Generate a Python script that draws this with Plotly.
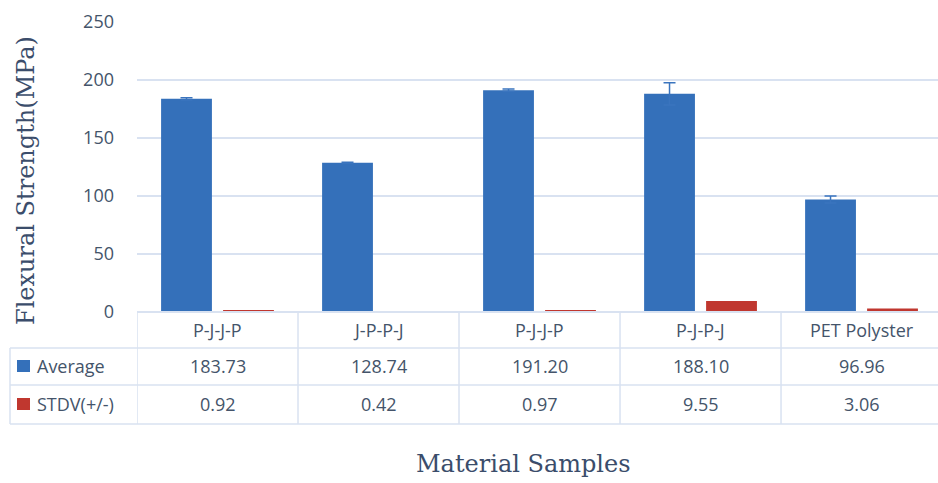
import plotly.graph_objects as go

categories = ["P-J-J-P", "J-P-P-J", "P-J-J-P", "P-J-P-J", "PET Polyster"]
average = [183.73, 128.74, 191.20, 188.10, 96.96]
stdv = [0.92, 0.42, 0.97, 9.55, 3.06]
y_ticks = [0, 50, 100, 150, 200, 250]

W, H = 938, 483
L, R, T, B = 137, 0, 22, 171
PW, PH = W - L - R, H - T - B

def px_x(p):  # pixel -> paper x
    return (p - L) / PW

def px_y(p):  # pixel -> paper y
    return (T + PH - p) / PH

xs = list(range(len(categories)))
TXT = "#44546a"
GRID = "#d9e2f1"
BLUE = "#3470ba"
RED = "#c0372f"

fig = go.Figure()
fig.add_trace(go.Bar(
    x=xs, y=average, name="Average", marker=dict(color=BLUE, line=dict(width=0)),
    error_y=dict(type="data", array=stdv, visible=True, color="#3a74be", thickness=1.5, width=6),
))
fig.add_trace(go.Bar(
    x=xs, y=stdv, name="STDV(+/-)", marker=dict(color=RED, line=dict(width=0)),
))

shapes = []
annotations = []
row_lines = [312, 348, 385, 424]
y_rows = [px_y(p) for p in row_lines]
# horizontal lines
shapes.append(dict(type="line", xref="paper", yref="paper", x0=0, x1=1.01, y0=y_rows[0], y1=y_rows[0],
                   line=dict(color=GRID, width=2), layer="above"))
for yr in y_rows[1:]:
    shapes.append(dict(type="line", xref="paper", yref="paper", x0=px_x(10), x1=1.01, y0=yr, y1=yr,
                       line=dict(color=GRID, width=1.5)))
# vertical lines
for i in range(len(categories) + 1):
    shapes.append(dict(type="line", xref="x", yref="paper", x0=i - 0.5, x1=i - 0.5, y0=y_rows[0], y1=y_rows[-1],
                       line=dict(color=GRID, width=1.5)))
shapes.append(dict(type="line", xref="paper", yref="paper", x0=px_x(10), x1=px_x(10), y0=y_rows[1], y1=y_rows[-1],
                   line=dict(color=GRID, width=1.5)))
# legend keys
for (c, col) in [(366, BLUE), (404, RED)]:
    shapes.append(dict(type="rect", xref="paper", yref="paper", x0=px_x(17), x1=px_x(30),
                       y0=px_y(c + 6), y1=px_y(c - 6), fillcolor=col, line=dict(width=0)))

tfont = dict(family="Open Sans, sans-serif", size=18, color=TXT)
row_centers = [330, 366, 404]
for i, cat in enumerate(categories):
    for r, txt in enumerate([cat, f"{average[i]:.2f}", f"{stdv[i]:.2f}"]):
        annotations.append(dict(x=i, y=px_y(row_centers[r]), xref="x", yref="paper", text=txt,
                                xanchor="center", yanchor="middle", showarrow=False, font=tfont))
annotations.append(dict(x=px_x(35), y=px_y(row_centers[1]), xref="paper", yref="paper", text="Average",
                        xanchor="left", yanchor="middle", showarrow=False, font=tfont))
annotations.append(dict(x=px_x(35), y=px_y(row_centers[2]), xref="paper", yref="paper", text="STDV(+/-)",
                        xanchor="left", yanchor="middle", showarrow=False, font=tfont))
# axis titles
sfont = dict(family="DejaVu Serif, serif", size=24, color="#3b4d6b")
annotations.append(dict(x=px_x(26), y=px_y(181), xref="paper", yref="paper", text="Flexural Strength(MPa)",
                        textangle=-90, xanchor="center", yanchor="middle", showarrow=False, font=sfont))
annotations.append(dict(x=px_x(523), y=px_y(464), xref="paper", yref="paper", text="Material Samples",
                        xanchor="center", yanchor="middle", showarrow=False, font=sfont))

fig.update_layout(
    width=W, height=H,
    margin=dict(l=L, r=R, t=T, b=B, pad=0, autoexpand=False),
    paper_bgcolor="white", plot_bgcolor="white",
    barmode="group", bargap=0.23, bargroupgap=0.18,
    showlegend=False,
    xaxis=dict(range=[-0.5, 4.475], showticklabels=False, showgrid=False, zeroline=False,
               showline=False, ticks="", automargin=False),
    yaxis=dict(range=[0, 250], tickvals=y_ticks, showgrid=True, gridcolor=GRID, gridwidth=1.5,
               zeroline=False, showline=False, ticks="", ticklabelstandoff=22, automargin=False,
               tickfont=dict(family="Open Sans, sans-serif", size=18, color=TXT)),
    shapes=shapes, annotations=annotations,
)

fig.write_html("out.html", config={"displayModeBar": False},
               post_script="document.body.style.margin='0';")
